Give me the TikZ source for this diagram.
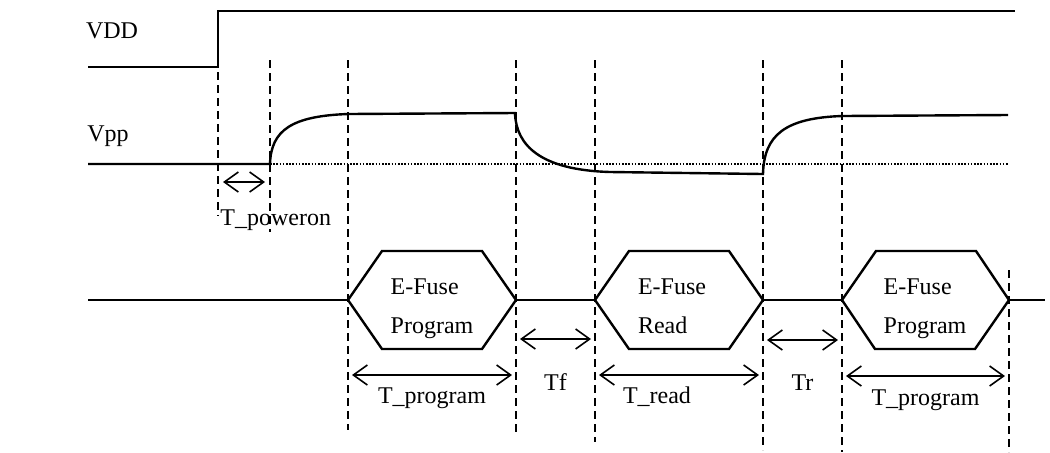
\documentclass[tikz,border=0pt]{standalone}
\usepackage{fontspec}
\setmainfont{Liberation Serif}
\usetikzlibrary{arrows.meta}

\begin{document}
\begin{tikzpicture}[x=0.5pt, y=-0.5pt,
font=\fontsize{12}{19.5}\selectfont,
wave/.style={line width=1.2pt},
guide/.style={line width=0.9pt, dash pattern=on 4pt off 2.5pt},
base/.style={line width=1pt, dash pattern=on 0.8pt off 0.8pt},
dim/.style={{Straight Barb[length=7pt,width=10pt]}-{Straight Barb[length=7pt,width=10pt]}, line width=0.8pt, shorten <=2pt, shorten >=2pt},
lbl/.style={inner sep=0pt, anchor=base},
fuse/.style={align=left, inner sep=0pt, text depth=3pt},
]
\useasboundingbox (0,0) rectangle (1050,452);
\coordinate (vddL) at (88,67);
\coordinate (vddU) at (218,11);
\coordinate (vddR) at (1015,11);
\coordinate (vppL) at (88,164);
\coordinate (vppR) at (1008,164);
\coordinate (busL) at (88,300);
\coordinate (busR) at (1045,300);
\coordinate (g1) at (218,72);
\coordinate (g2) at (270,60);
\coordinate (g3) at (348,60);
\coordinate (g4) at (516,60);
\coordinate (g5) at (595,60);
\coordinate (g6) at (763,60);
\coordinate (g7) at (842,60);
\coordinate (g8) at (1009,270);
\coordinate (pa) at (348,300);
\coordinate (pb) at (516,300);
\coordinate (ra) at (595,300);
\coordinate (rb) at (763,300);
\coordinate (qa) at (842,300);
\coordinate (qb) at (1009,300);

\node[lbl] (vdd) at (112,38) {VDD};
\node[lbl] (vpp) at (108,141) {Vpp};

\draw[wave] (vddL) -- (vddL -| vddU) -- (vddU) -- (vddR);
\draw[wave] (vppL) -- (vppL -| g2) .. controls (271,130) and (292,116) .. (348,114) -- (515,113)
  .. controls (516,145) and (540,170) .. (610,172) -- (763,174)
  .. controls (764,135) and (785,118) .. (842,116) -- (1008,115);
\draw[base] (vppL -| g2) -- (vppR);

\draw[guide] (g1) -- (g1 |- 0,216);
\draw[guide] (g2) -- (g2 |- 0,232);
\draw[guide] (g3) -- (g3 |- 0,430);
\draw[guide] (g4) -- (g4 |- 0,432);
\draw[guide] (g5) -- (g5 |- 0,442);
\draw[guide] (g6) -- (g6 |- 0,450);
\draw[guide] (g7) -- (g7 |- 0,452);
\draw[guide] (g8) -- (g8 |- 0,452);

\draw[wave] (busL) -- (pa);
\draw[wave] (pb) -- (ra);
\draw[wave] (rb) -- (qa);
\draw[wave] (qb) -- (busR);
\draw[wave] (pa) -- ++(34,-49) -- ++(100,0) -- (pb) -- ++(-34,49) -- ++(-100,0) -- cycle;
\draw[wave] (ra) -- ++(34,-49) -- ++(100,0) -- (rb) -- ++(-34,49) -- ++(-100,0) -- cycle;
\draw[wave] (qa) -- ++(34,-49) -- ++(100,0) -- (qb) -- ++(-34,49) -- ++(-100,0) -- cycle;
\node[fuse] (prog1) at (432,309) {E-Fuse\\Program};
\node[fuse] (read) at (672,309) {E-Fuse\\Read};
\node[fuse] (prog2) at (925,309) {E-Fuse\\Program};

\draw[dim, shorten <=2.5pt, shorten >=2.5pt] (g1 |- 0,182) -- (g2 |- 0,182);
\node[lbl, anchor=base west] (ton) at (220,225) {T\_poweron};
\draw[dim] (g3 |- 0,375) -- node[lbl, yshift=-14pt]{T\_program} (g4 |- 0,375);
\draw[dim] (g4 |- 0,339) -- node[lbl, yshift=-25.5pt]{Tf} (g5 |- 0,339);
\draw[dim] (g5 |- 0,375) -- node[lbl, yshift=-14pt, xshift=-11pt]{T\_read} (g6 |- 0,375);
\draw[dim] (g6 |- 0,340) -- node[lbl, yshift=-25pt]{Tr} (g7 |- 0,340);
\draw[dim] (g7 |- 0,376) -- node[lbl, yshift=-14.5pt]{T\_program} (g8 |- 0,376);
\end{tikzpicture}
\end{document}
